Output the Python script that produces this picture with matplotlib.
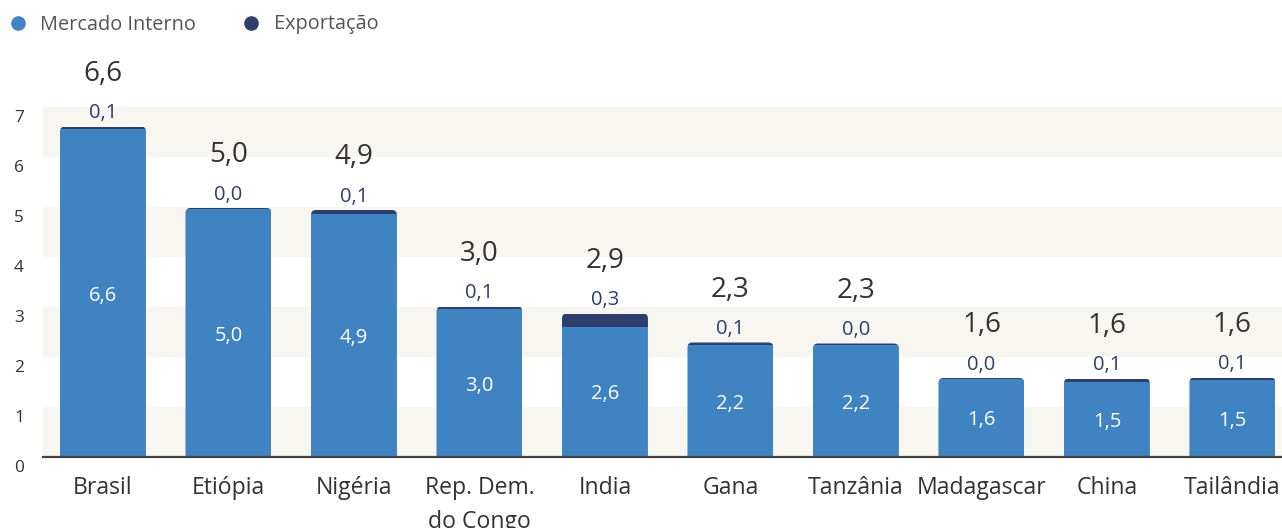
import matplotlib
matplotlib.use('Agg')
import matplotlib.pyplot as plt
from matplotlib.patches import FancyBboxPatch
from matplotlib.lines import Line2D
from matplotlib.transforms import ScaledTranslation

plt.rcParams['font.family'] = ['Open Sans', 'DejaVu Sans']

categories = ['Brasil', 'Etiópia', 'Nigéria', 'Rep. Dem.\ndo Congo', 'India',
              'Gana', 'Tanzânia', 'Madagascar', 'China', 'Tailândia']
mercado_interno = [6.56, 4.96, 4.86, 2.96, 2.60, 2.24, 2.24, 1.56, 1.51, 1.54]
exportacao = [0.05, 0.02, 0.08, 0.05, 0.27, 0.05, 0.03, 0.02, 0.06, 0.05]
y_ticks = [0, 1, 2, 3, 4, 5, 6, 7]

COLOR_INT = '#4083c2'
COLOR_EXP = '#2e3f6b'
TEXT_DARK = '#333333'
BAND = '#f7f6f1'


def fmt(v):
    return f'{v:.1f}'.replace('.', ',')


W, H, DPI = 1282, 528, 100
fig = plt.figure(figsize=(W / DPI, H / DPI), dpi=DPI)
ax = fig.add_axes([43 / W, 1 - 457 / H, 1239 / W, 350 / H])

n = len(categories)
x = list(range(n))
totals = [a + b for a, b in zip(mercado_interno, exportacao)]
bar_w = 0.685

ax.set_xlim(-0.478, 9.395)
ax.set_ylim(0, 7)

# alternating horizontal bands
for lo in (0, 2, 4, 6):
    ax.axhspan(lo, lo + 1, color=BAND, zorder=0, lw=0)

bars_int = ax.bar(x, mercado_interno, width=bar_w, color=COLOR_INT, zorder=2)
bars_exp = ax.bar(x, exportacao, bottom=mercado_interno, width=bar_w,
                  color=COLOR_EXP, zorder=2)

# round the top corners of each stack
r_x = 5 / 125.5
aspect = (5 / 50) / r_x
for i in range(n):
    clip = FancyBboxPatch((i - bar_w / 2, -1), bar_w, totals[i] + 1,
                          boxstyle=f'round,pad=0,rounding_size={r_x}',
                          mutation_aspect=aspect, transform=ax.transData,
                          facecolor='none', edgecolor='none')
    bars_int[i].set_clip_path(clip)
    bars_exp[i].set_clip_path(clip)

for i in range(n):
    ax.text(i, mercado_interno[i] / 2, fmt(mercado_interno[i]), ha='center',
            va='center_baseline', color='white', fontsize=14.5, zorder=3)
    ax.annotate(fmt(exportacao[i]), xy=(i, totals[i]), xytext=(0, 5.8),
                textcoords='offset points', ha='center', va='baseline',
                color=COLOR_EXP, fontsize=14.5, annotation_clip=False)
    ax.annotate(fmt(totals[i]), xy=(i, totals[i]), xytext=(0, 33),
                textcoords='offset points', ha='center', va='baseline',
                color=TEXT_DARK, fontsize=20, annotation_clip=False)

for side in ('top', 'right', 'left'):
    ax.spines[side].set_visible(False)
ax.spines['bottom'].set_color('#444444')
ax.spines['bottom'].set_linewidth(1.6)
ax.spines['bottom'].set_zorder(4)

ax.set_yticks(y_ticks)
ax.set_yticklabels([str(t) for t in y_ticks], color=TEXT_DARK, fontsize=12.4)
ax.tick_params(axis='y', length=0, pad=13.7)
for lab in ax.get_yticklabels():
    lab.set_transform(lab.get_transform() + ScaledTranslation(0, -9 / DPI, fig.dpi_scale_trans))

ax.set_xticks(x)
ax.set_xticklabels(categories, color=TEXT_DARK, fontsize=16.6, linespacing=1.55)
ax.tick_params(axis='x', length=0, pad=13.5)

handles = [Line2D([], [], marker='o', ls='', color=COLOR_INT, markersize=9.5),
           Line2D([], [], marker='o', ls='', color=COLOR_EXP, markersize=9.5)]
fig.legend(handles, ['Mercado Interno', 'Exportação'], loc='center left',
           bbox_to_anchor=(11.5 / W, 1 - 24.5 / H), ncol=2, frameon=False,
           fontsize=14.3, labelcolor='#555555', handlelength=0.65,
           handletextpad=0.8, columnspacing=2.45, borderpad=0, borderaxespad=0)

fig.savefig('out.png', dpi=DPI)
